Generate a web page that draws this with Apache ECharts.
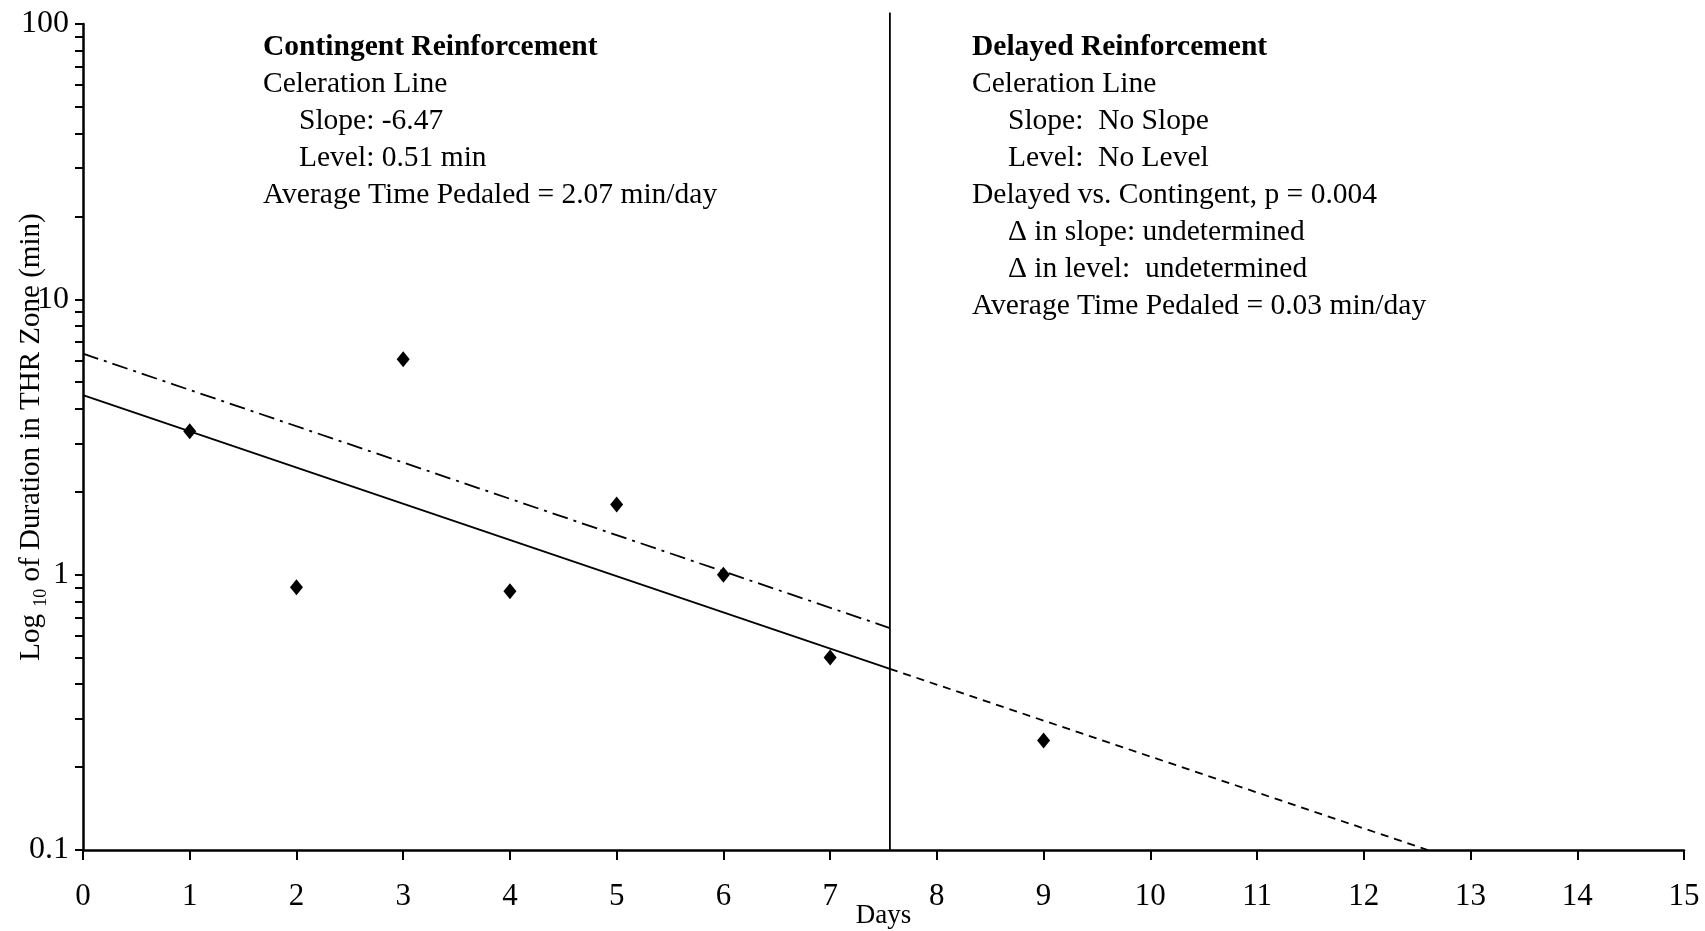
<!DOCTYPE html>
<html>
<head>
<meta charset="utf-8">
<script src="https://cdn.jsdelivr.net/npm/echarts@6/dist/echarts.min.js"></script>
<style>
  html, body { margin: 0; padding: 0; background: #fff; }
  #main { width: 1705px; height: 931px; }
</style>
</head>
<body>
<div id="main"></div>
<script>
// data
var days = [1, 2, 3, 4, 5, 6, 7, 9];
var duration = [3.32, 0.9, 6.06, 0.87, 1.8, 1.0, 0.5, 0.25];
var celeration = [[0, 4.49], [7.56, 0.455]];
var projection = [[7.56, 0.455], [12.6, 0.1]];
var upperLine = [[0, 6.35], [7.56, 0.64]];
var phaseChange = [[7.56, 0.1], [7.56, 110]];
var xTicks = [0, 15, 1];
var yMajor = [0.1, 1, 10, 100];
var yMinor = [0.1, 0.2, 0.3, 0.4, 0.5, 0.6, 0.7, 0.8, 0.9,
  1, 2, 3, 4, 5, 6, 7, 8, 9, 10, 20, 30, 40, 50, 60, 70, 80, 90, 100];

var leftNotes = [
  ['Contingent Reinforcement', 0, true],
  ['Celeration Line', 0],
  ['Slope: -6.47', 1],
  ['Level: 0.51 min', 1],
  ['Average Time Pedaled = 2.07 min/day', 0]
];
var rightNotes = [
  ['Delayed Reinforcement', 0, true],
  ['Celeration Line', 0],
  ['Slope:  No Slope', 1],
  ['Level:  No Level', 1],
  ['Delayed vs. Contingent, p = 0.004', 0],
  ['\u0394 in slope: undetermined', 1],
  ['\u0394 in level:  undetermined', 1],
  ['Average Time Pedaled = 0.03 min/day', 0]
];

var font = '"Liberation Serif", "Times New Roman", serif';
var black = '#000';

function noteTexts (lines, x0) {
  return lines.map(function (l, i) {
    return {
      type: 'text',
      left: x0 + l[1] * 36,
      top: 32 + i * 37,
      style: {
        text: l[0],
        font: (l[2] ? 'bold ' : '') + '29.5px ' + font,
        fill: black
      }
    };
  });
}

var myChart = echarts.init(document.getElementById('main'));
var option = {
  backgroundColor: '#fff',
  animation: false,
  grid: { left: 83, right: 21, top: 24, bottom: 81, outerBoundsMode: 'none', containLabel: false },
  xAxis: {
    type: 'value',
    min: xTicks[0],
    max: xTicks[1],
    interval: xTicks[2],
    name: 'Days',
    nameLocation: 'middle',
    nameGap: 52,
    nameMoveOverlap: false,
    nameTextStyle: { fontFamily: font, fontSize: 27, color: black },
    axisLine: { lineStyle: { color: black, width: 2.5 } },
    axisTick: { length: 10, lineStyle: { color: black, width: 2 } },
    axisLabel: { margin: 31, fontFamily: font, fontSize: 31, color: black },
    splitLine: { show: false }
  },
  yAxis: {
    type: 'log',
    logBase: 10,
    min: 0.1,
    max: 100,
    name: '{a|Log }{s|10}{a| of Duration in THR Zone (min)}',
    nameLocation: 'middle',
    nameGap: 33,
    nameMoveOverlap: false,
    nameTextStyle: {
      color: black,
      rich: {
        a: { fontFamily: font, fontSize: 29, color: black },
        s: { fontFamily: font, fontSize: 18, color: black, padding: [20, 0, 0, 0] }
      }
    },
    axisLine: { show: true, lineStyle: { color: black, width: 2.5 } },
    axisTick: { show: true, length: 8, customValues: yMinor, lineStyle: { color: black, width: 2 } },
    axisLabel: {
      margin: 14, fontFamily: font, fontSize: 32, color: black,
      customValues: yMajor,
      formatter: function (v) { return String(+v.toPrecision(3)); }
    },
    splitLine: { show: false }
  },
  graphic: noteTexts(leftNotes, 263).concat(noteTexts(rightNotes, 972)),
  series: [
    {
      name: 'Celeration',
      type: 'line',
      data: celeration,
      symbol: 'none',
      lineStyle: { color: black, width: 1.8 }
    },
    {
      name: 'Projection',
      type: 'line',
      data: projection,
      symbol: 'none',
      lineStyle: { color: black, width: 1.8, type: [8, 6] }
    },
    {
      name: 'Upper',
      type: 'line',
      data: upperLine,
      symbol: 'none',
      lineStyle: { color: black, width: 1.8, type: [16, 6, 3, 6] }
    },
    {
      name: 'Phase change',
      type: 'line',
      data: phaseChange,
      symbol: 'none',
      clip: false,
      lineStyle: { color: black, width: 1.8 }
    },
    {
      name: 'Duration',
      type: 'scatter',
      data: days.map(function (d, i) { return [d, duration[i]]; }),
      symbol: 'diamond',
      symbolSize: [13, 16],
      itemStyle: { color: black, opacity: 1 }
    }
  ]
};
myChart.setOption(option);
window.addEventListener('resize', function () {
  myChart.resize();
});
</script>
</body>
</html>
